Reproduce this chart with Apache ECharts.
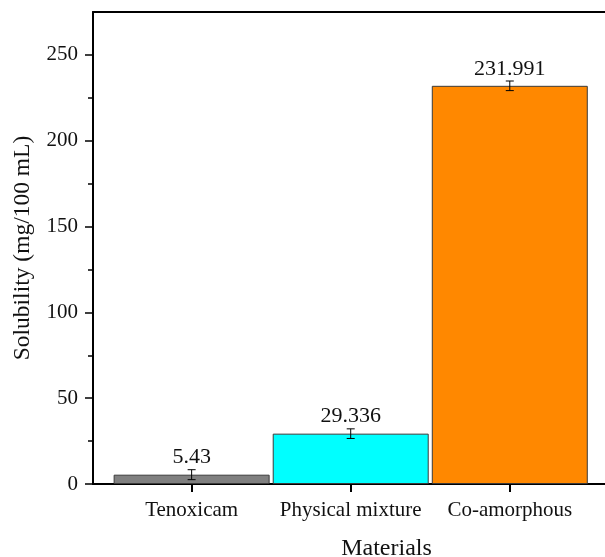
<!DOCTYPE html>
<html>
<head>
<meta charset="utf-8">
<script src="https://cdn.jsdelivr.net/npm/echarts@6/dist/echarts.min.js"></script>
<style>
  html, body { margin: 0; padding: 0; background: #fff; }
  #chart { width: 605px; height: 557px; }
</style>
</head>
<body>
<div id="chart"></div>
<script>
// Solubility of tenoxicam preparations
const categories = ['Tenoxicam', 'Physical mixture', 'Co-amorphous'];
const solubility = [5.43, 29.336, 231.991];
const errors = [2.9, 2.8, 2.8];
const barColors = ['#808080', '#00FFFF', '#FF8800'];
const yMajorTicks = [0, 50, 100, 150, 200, 250];
const yMinorTicks = [25, 75, 125, 175, 225];

const FONT = '"Liberation Serif", "Times New Roman", serif';
const positions = categories.map((_, i) => i + 1);

const barData = solubility.map((v, i) => ({
  value: [positions[i], v],
  itemStyle: { color: barColors[i] }
}));
const errData = solubility.map((v, i) => [positions[i], v, errors[i]]);

const chart = echarts.init(document.getElementById('chart'), null, { renderer: 'canvas' });

// the plot frame runs on past the right edge of the canvas
const X_MIN = 0.38, X_MAX = 4.07;

const option = {
  animation: false,
  backgroundColor: '#fff',
  grid: { left: 93, right: -75, top: 12, bottom: 73, containLabel: false, outerBoundsMode: 'none' },
  xAxis: [
    {
      type: 'value',
      min: X_MIN,
      max: X_MAX,
      position: 'bottom',
      name: 'Materials',
      nameLocation: 'middle',
      nameGap: 53,
      nameTextStyle: { fontFamily: FONT, fontSize: 24, color: '#111' },
      axisLine: { show: true, onZero: false, lineStyle: { color: '#000', width: 2 } },
      axisTick: { show: true, inside: false, length: 8, customValues: positions,
                  lineStyle: { color: '#000', width: 2 } },
      axisLabel: {
        customValues: positions,
        margin: 16,
        fontFamily: FONT, fontSize: 21, color: '#111',
        formatter: v => categories[Math.round(v) - 1] || ''
      },
      splitLine: { show: false }
    },
    {
      type: 'value',
      min: X_MIN,
      max: X_MAX,
      position: 'top',
      axisLine: { show: true, onZero: false, lineStyle: { color: '#000', width: 2 } },
      axisTick: { show: false },
      axisLabel: { show: false },
      splitLine: { show: false }
    }
  ],
  yAxis: [
    {
      type: 'value',
      min: 0,
      max: 275,
      position: 'left',
      name: 'Solubility (mg/100 mL)',
      nameLocation: 'middle',
      nameGap: 58,
      nameTextStyle: { fontFamily: FONT, fontSize: 23.5, color: '#111' },
      axisLine: { show: true, onZero: false, lineStyle: { color: '#000', width: 2 } },
      axisTick: { show: true, inside: false, length: 8, customValues: yMajorTicks,
                  lineStyle: { color: '#000', width: 1.5 } },
      axisLabel: { customValues: yMajorTicks, margin: 15,
                   fontFamily: FONT, fontSize: 21, color: '#111' },
      splitLine: { show: false }
    },
    {
      type: 'value',
      min: 0,
      max: 275,
      position: 'left',
      axisLine: { show: false },
      axisTick: { show: true, inside: false, length: 5, customValues: yMinorTicks,
                  lineStyle: { color: '#000', width: 1.5 } },
      axisLabel: { show: false },
      splitLine: { show: false }
    }
  ],
  series: [
    {
      type: 'bar',
      xAxisIndex: 0,
      yAxisIndex: 0,
      barWidth: 156,
      data: barData,
      itemStyle: { borderColor: '#3a3a3a', borderWidth: 1 },
      label: {
        show: true,
        position: 'top',
        distance: 6,
        fontFamily: FONT,
        fontSize: 22,
        color: '#111',
        formatter: p => String(p.value[1])
      },
      z: 2
    },
    {
      type: 'custom',
      xAxisIndex: 0,
      yAxisIndex: 0,
      data: errData,
      z: 5,
      renderItem: (params, api) => {
        const x = api.value(0), y = api.value(1), e = api.value(2);
        const top = api.coord([x, y + e]);
        const bot = api.coord([x, y - e]);
        const hw = 4;
        const style = { stroke: '#000', lineWidth: 1 };
        return {
          type: 'group',
          children: [
            { type: 'line', shape: { x1: top[0], y1: top[1], x2: bot[0], y2: bot[1] }, style },
            { type: 'line', shape: { x1: top[0] - hw, y1: top[1], x2: top[0] + hw, y2: top[1] }, style },
            { type: 'line', shape: { x1: bot[0] - hw, y1: bot[1], x2: bot[0] + hw, y2: bot[1] }, style }
          ]
        };
      }
    }
  ]
};

chart.setOption(option);
</script>
</body>
</html>
